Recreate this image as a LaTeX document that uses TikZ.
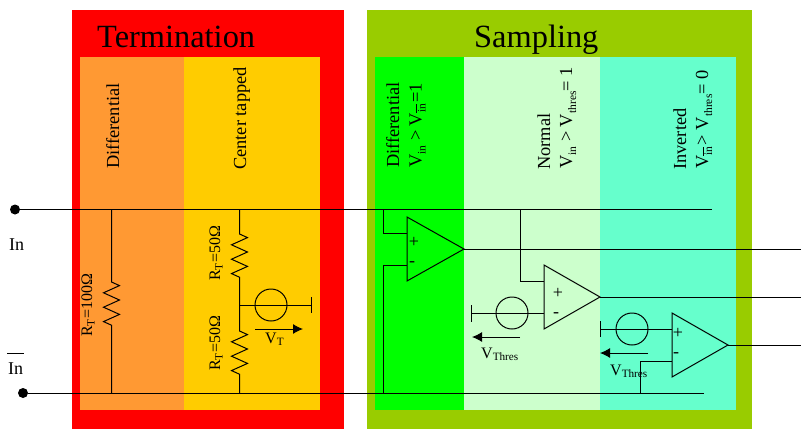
\documentclass[tikz,border=0pt]{standalone}
\usepackage{fontspec}
\setmainfont{Liberation Serif}
\usetikzlibrary{arrows.meta}
\newcommand{\fsz}[1]{\fontsize{#1}{#1}\selectfont}
\newcommand{\sbs}[1]{\raisebox{-4pt}{\fsz{11.5}#1}}
\newcommand{\olin}{\raisebox{-4pt}{\fsz{11.5}$\overline{\hbox{in}}$}}
\tikzset{
  x=1pt,y=-1pt,
  wire/.style={line width=1pt,black},
  vlabel/.style={rotate=90,inner sep=0pt,font=\fsz{18.4}},
  rlabel/.style={rotate=90,inner sep=0pt,font=\fsz{16}},
  title/.style={inner sep=0pt,anchor=base west,font=\fsz{32.4}},
  plain/.style={inner sep=0pt,font=\fsz{16}},
  inlabel/.style={inner sep=0pt,font=\fsz{18}},
  sign/.style={inner sep=0pt,font=\fsz{18}},
  source/.style={circle,draw,line width=1pt,minimum size=32pt,inner sep=0pt},
  dot/.style={circle,fill=black,minimum size=10pt,inner sep=0pt},
  flow/.style={wire,-{Latex[length=10pt,width=10pt]}},
  hold/.style={wire,line join=miter}
}
\definecolor{cOrange}{HTML}{FF9933}
\definecolor{cYellow}{HTML}{FFCC00}
\definecolor{cOlive}{HTML}{99CC00}
\definecolor{cPale}{HTML}{CCFFCC}
\definecolor{cAqua}{HTML}{66FFCC}
\newcommand{\zz}{-- ++(8,3.6) -- ++(-16,7.2) -- ++(16,7.2) -- ++(-16,7.2) -- ++(16,7.2) -- ++(-16,7.2) -- ++(8,3.6)}
\begin{document}
\begin{tikzpicture}
\useasboundingbox (0,0) rectangle (801,429);
% panels
\fill[red] (72,10) rectangle (344,429);
\fill[cOrange] (80,57) rectangle (184,410);
\fill[cYellow] (184,57) rectangle (320,410);
\fill[cOlive] (367,10) rectangle (752,429);
\fill[green] (375,57) rectangle (464,410);
\fill[cPale] (464,57) rectangle (600,410);
\fill[cAqua] (600,57) rectangle (736,410);
% titles
\node[title] (tTerm) at (97,47) {Termination};
\node[title] (tSamp) at (474,47) {Sampling};
% column labels
\node[vlabel,anchor=base west] (lDiff) at (119,169) {Differential};
\node[vlabel,anchor=base west] (lCent) at (246,170) {Center tapped};
\node[vlabel,anchor=base west] (l1a) at (399,168) {Differential};
\node[vlabel,anchor=base west] (l1b) at (421.5,168) {V\sbs{in} > V\olin\hspace{1pt}=1};
\node[vlabel,anchor=base west] (l2a) at (550,170) {Normal};
\node[vlabel,anchor=base west] (l2b) at (572,169) {V\sbs{in} > V\sbs{thres}= 1};
\node[vlabel,anchor=base west] (l3a) at (686,170) {Inverted};
\node[vlabel,anchor=base west] (l3b) at (708,169) {V\olin\hspace{1.5pt}> V\sbs{thres}= 0};
% input terminals
\node[dot] (inT) at (15,209.5) {};
\node[dot] (inB) at (23,393) {};
\coordinate (busT) at (712,209.5);
\coordinate (busB) at (704,393);
\draw[wire] (inT) -- (busT);
\draw[wire] (inB) -- (busB);
\node[inlabel,anchor=base west] (tIn) at (9,250) {In};
\node[inlabel,anchor=base west] (tInB) at (8,374) {In};
\draw[line width=0.8pt] (7,353.5) -- (24,353.5);
% differential termination
\coordinate (r1t) at (111.5,209.5);
\coordinate (r1b) at (111.5,393);
\draw[wire] (r1t) -- (111.5,282) \zz -- (r1b);
\node[rlabel,anchor=base west] (lR1) at (92,337) {R\textsubscript{T}=100Ω};
% center tapped
\coordinate (r2t) at (239.5,209.5);
\coordinate (r2b) at (239.5,393);
\draw[wire] (r2t) -- (239.5,234) \zz -- (239.5,331) \zz -- (r2b);
\node[rlabel,anchor=base west] (lR2) at (220,281) {R\textsubscript{T}=50Ω};
\node[rlabel,anchor=base west] (lR3) at (220,371) {R\textsubscript{T}=50Ω};
\node[source] (vt) at (271,305) {};
\coordinate (vtG) at (311.5,305);
\draw[wire] (239.5,305) -- (vtG);
\draw[wire] (311.5,297) -- (311.5,313);
\coordinate (aTs) at (255,329);
\coordinate (aTe) at (303,329);
\draw[flow] (aTs) -- (aTe);
\node[plain,anchor=base west] (tVT) at (265,343) {V\textsubscript{T}};
% comparator 1
\coordinate (c1a) at (407,217); \coordinate (c1b) at (407,281); \coordinate (c1o) at (464,249);
\draw[hold] (c1a) -- (c1b) -- (c1o) -- cycle;
\node[sign] (c1p) at (414,242) {+};
\node[sign] (c1m) at (412,264) {-};
\coordinate (c1ip) at (407,233); \coordinate (c1im) at (407,265);
\draw[wire] (383.5,209.5) |- (c1ip);
\draw[wire] (383.5,393) |- (c1im);
\coordinate (o1) at (801,249);
\draw[wire] (c1o) -- (o1);
% comparator 2
\coordinate (c2a) at (544,265); \coordinate (c2b) at (544,329); \coordinate (c2o) at (600,297);
\draw[hold] (c2a) -- (c2b) -- (c2o) -- cycle;
\node[sign] (c2p) at (558,293) {+};
\node[sign] (c2m) at (556,315) {-};
\coordinate (c2ip) at (544,281); \coordinate (c2im) at (544,313);
\draw[wire] (520,209.5) |- (c2ip);
\node[source] (v2) at (512,313) {};
\coordinate (v2G) at (471.5,313);
\draw[wire] (c2im) -- (v2G);
\draw[wire] (471.5,305) -- (471.5,322);
\coordinate (a2s) at (520,337); \coordinate (a2e) at (472,337);
\draw[flow] (a2s) -- (a2e);
\node[plain,anchor=base west] (tV2) at (481,358) {V\textsubscript{Thres}};
\coordinate (o2) at (801,297);
\draw[wire] (c2o) -- (o2);
% comparator 3
\coordinate (c3a) at (672,313); \coordinate (c3b) at (672,377); \coordinate (c3o) at (728,345);
\draw[hold] (c3a) -- (c3b) -- (c3o) -- cycle;
\node[sign] (c3p) at (678,333) {+};
\node[sign] (c3m) at (676,355) {-};
\coordinate (c3ip) at (672,329); \coordinate (c3im) at (672,361);
\node[source] (v3) at (632,329) {};
\coordinate (v3G) at (600,329);
\draw[wire] (c3ip) -- (v3G);
\draw[wire] (600,321) -- (600,337);
\coordinate (a3s) at (648,353); \coordinate (a3e) at (600,353);
\draw[flow] (a3s) -- (a3e);
\node[plain,anchor=base west] (tV3) at (610,375) {V\textsubscript{Thres}};
\draw[wire] (640,393) |- (c3im);
\coordinate (o3) at (801,345);
\draw[wire] (c3o) -- (o3);
\end{tikzpicture}
\end{document}
